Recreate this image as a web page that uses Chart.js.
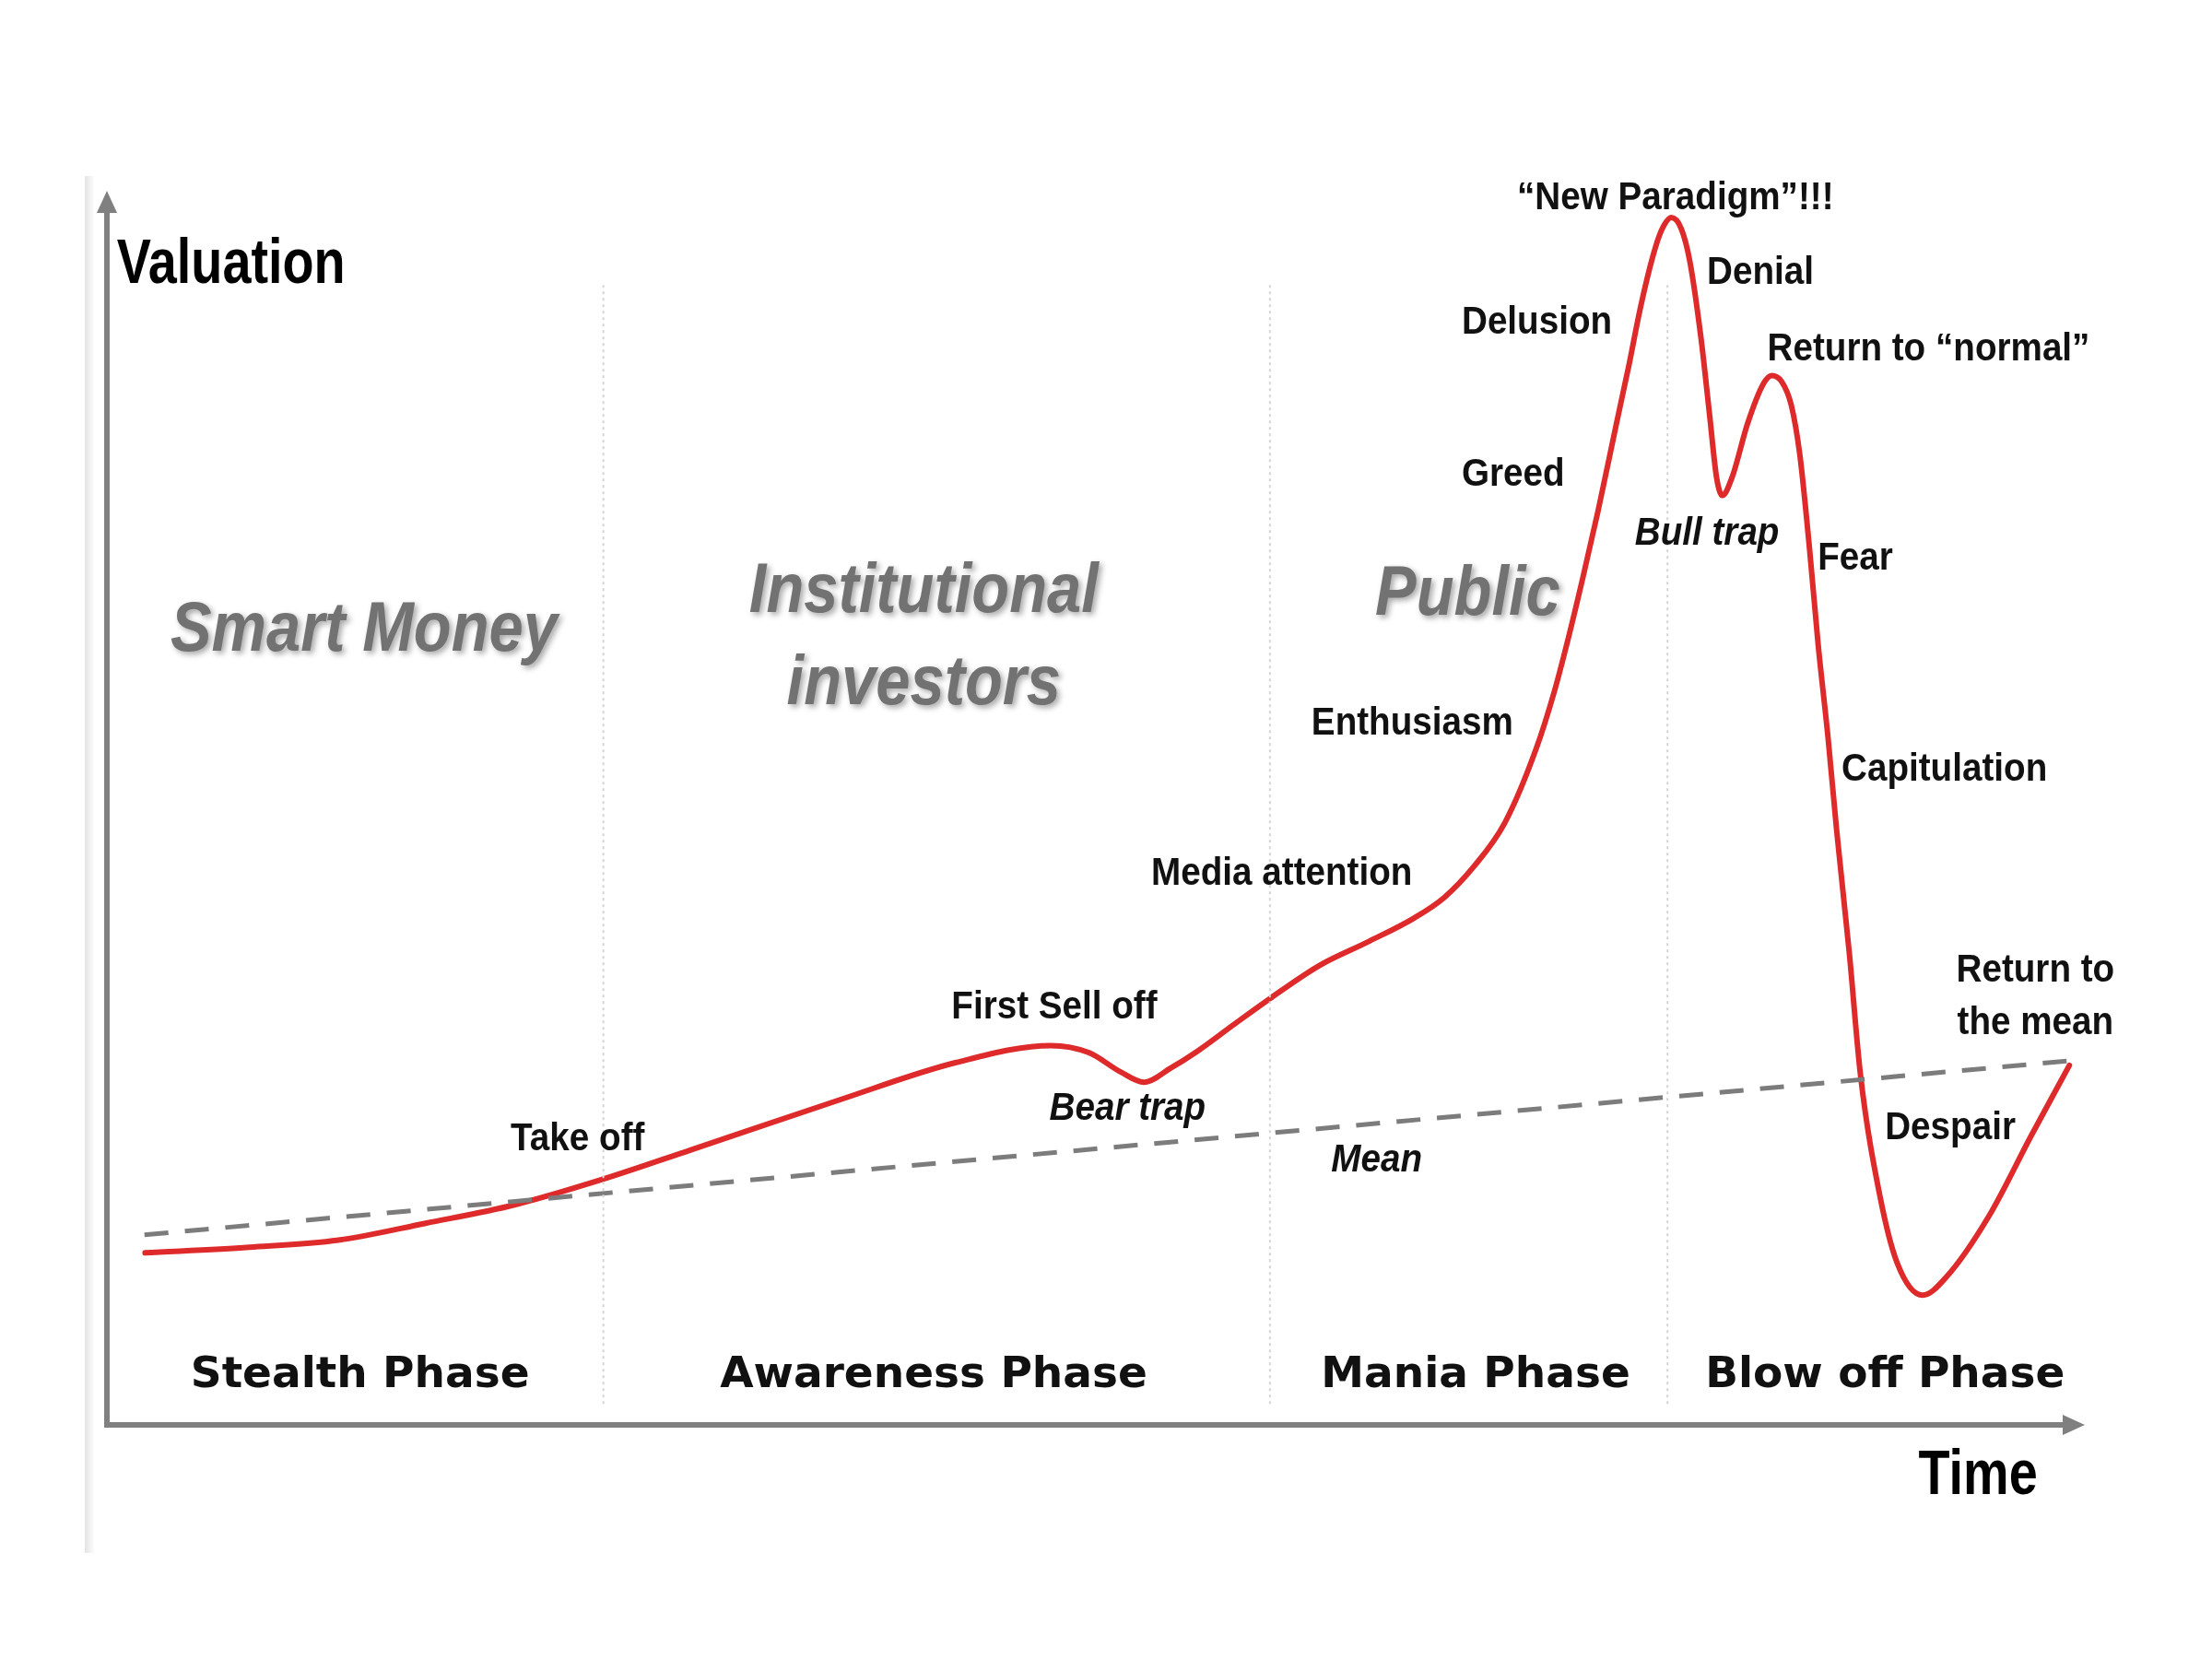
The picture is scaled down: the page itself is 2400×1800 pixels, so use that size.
<!DOCTYPE html>
<html>
<head>
<meta charset="utf-8">
<script src="https://cdn.jsdelivr.net/npm/chart.js@4.4.1/dist/chart.umd.min.js"></script>
<style>
  html, body { margin: 0; padding: 0; background: #fff; }
  #wrap { width: 2400px; height: 1800px; }
</style>
</head>
<body>
<div id="wrap"><canvas id="cycle" width="2400" height="1800"></canvas></div>
<script>
// time runs 0..100 along the x axis, valuation 0..100 up the y axis
const timeValues = [
  1.93, 7.20, 11.70, 16.12, 20.61, 25.04, 29.53, 36.95, 42.94, 47.72,
  49.64, 51.28, 52.43, 53.78, 55.14, 56.99, 58.77, 61.34, 63.69, 66.05,
  67.62, 69.12, 70.68, 72.25, 73.18, 73.89, 74.61, 75.39, 76.32, 76.96,
  77.53, 78.17, 78.60, 79.10, 79.60, 80.03, 80.60, 81.03, 81.38, 81.67,
  82.17, 82.95, 83.74, 84.17, 84.66, 85.16, 85.59, 86.09, 86.52, 87.02,
  87.45, 88.09, 88.66, 89.66, 90.51, 91.80, 93.01, 95.15, 97.29, 99.22
];
const valuationValues = [
  13.94, 14.40, 14.97, 16.34, 17.83, 19.89, 22.29, 26.29, 29.37, 30.74,
  30.17, 28.57, 27.77, 28.91, 30.29, 32.46, 34.51, 37.26, 39.09, 41.03,
  42.74, 45.26, 48.80, 54.74, 59.43, 63.77, 68.57, 74.06, 81.14, 85.94,
  90.51, 94.74, 96.80, 97.83, 96.91, 94.29, 88.00, 81.83, 76.80, 75.31,
  76.80, 81.14, 84.34, 85.03, 84.57, 82.63, 78.63, 70.86, 63.20, 55.66,
  48.23, 38.29, 28.34, 18.40, 13.14, 10.51, 12.00, 16.91, 23.43, 29.14
];
const meanTime = [1.9, 99.2];
const meanValues = [15.4, 29.5];
const phaseBounds = [25.1, 58.8, 78.9];
const phaseNames = ['Stealth Phase', 'Awareness Phase', 'Mania Phase', 'Blow off Phase'];
const phaseCenters = [12.8, 41.8, 69.2, 89.9];
const actorNames = ['Smart Money', 'Institutional', 'investors', 'Public'];

// text annotations: [text, time, valuation, italic]
const stageLabels = [
  ['Take off', 23.8, 23.1, false],
  ['First Sell off', 47.9, 33.8, false],
  ['Bear trap', 51.6, 25.6, true],
  ['Media attention', 59.4, 44.6, false],
  ['Mean', 64.2, 21.4, true],
  ['Enthusiasm', 66.0, 56.8, false],
  ['Greed', 71.1, 77.0, false],
  ['Delusion', 72.3, 89.3, false],
  ['\u201cNew Paradigm\u201d!!!', 79.3, 99.4, false],
  ['Denial', 83.6, 93.3, false],
  ['Return to \u201cnormal\u201d', 92.1, 87.1, false],
  ['Bull trap', 80.9, 72.2, true],
  ['Fear', 88.4, 70.2, false],
  ['Capitulation', 92.9, 53.1, false],
  ['Return to', 97.5, 36.8, false],
  ['the mean', 97.5, 32.5, false],
  ['Despair', 93.2, 24.0, false]
];
const actorSpots = [[13.0, 64.3], [41.3, 67.4], [41.3, 60.0], [68.8, 67.2]];

function zip(xs, ys) {
  return xs.map((x, i) => ({ x: x, y: ys[i] }));
}

function drawText(ctx, text, x, y, font, color, align, scaleX) {
  ctx.save();
  ctx.translate(x, y);
  ctx.scale(scaleX, 1);
  ctx.font = font;
  ctx.textAlign = align;
  ctx.textBaseline = 'middle';
  ctx.fillStyle = color;
  ctx.fillText(text, 0, 0);
  ctx.restore();
}

const dividerSets = phaseBounds.map(b => ({
  data: [{ x: b, y: 1.7 }, { x: b, y: 92.6 }],
  borderColor: '#d4d4d4',
  borderWidth: 2,
  borderDash: [3, 4],
  pointRadius: 0,
  tension: 0
}));

const decorPlugin = {
  id: 'decor',
  beforeDraw(chart) {
    const ctx = chart.ctx;
    const a = chart.chartArea;
    ctx.save();
    ctx.fillStyle = '#fff';
    ctx.fillRect(0, 0, chart.width, chart.height);
    // faint edge of the original picture
    const g = ctx.createLinearGradient(a.left - 24, 0, a.left - 14, 0);
    g.addColorStop(0, '#e4e4e4');
    g.addColorStop(1, '#fbfbfb');
    ctx.fillStyle = g;
    ctx.fillRect(a.left - 24, a.top - 16, 10, 1494);
    ctx.restore();
  },
  afterDatasetsDraw(chart) {
    const ctx = chart.ctx;
    const a = chart.chartArea;
    const xs = chart.scales.x, ys = chart.scales.y;

    // axes with arrowheads
    ctx.save();
    ctx.strokeStyle = '#808080';
    ctx.fillStyle = '#808080';
    ctx.lineWidth = 6;
    ctx.beginPath();
    ctx.moveTo(a.left, a.top + 18);
    ctx.lineTo(a.left, a.bottom);
    ctx.lineTo(a.right - 18, a.bottom);
    ctx.stroke();
    ctx.beginPath();
    ctx.moveTo(a.left, a.top);
    ctx.lineTo(a.left - 11, a.top + 24);
    ctx.lineTo(a.left + 11, a.top + 24);
    ctx.closePath();
    ctx.fill();
    ctx.beginPath();
    ctx.moveTo(a.right, a.bottom);
    ctx.lineTo(a.right - 24, a.bottom - 11);
    ctx.lineTo(a.right - 24, a.bottom + 11);
    ctx.closePath();
    ctx.fill();
    ctx.restore();

    // actor labels, grey italic with soft shadow
    ctx.save();
    ctx.shadowColor = 'rgba(0,0,0,0.35)';
    ctx.shadowBlur = 6;
    ctx.shadowOffsetX = 3;
    ctx.shadowOffsetY = 3;
    actorNames.forEach((name, i) => {
      drawText(ctx, name, xs.getPixelForValue(actorSpots[i][0]), ys.getPixelForValue(actorSpots[i][1]),
        'italic bold 76px "Liberation Sans"', '#727272', 'center', 0.88);
    });
    ctx.restore();

    stageLabels.forEach(([text, t, v, italic]) => {
      drawText(ctx, text, xs.getPixelForValue(t), ys.getPixelForValue(v),
        (italic ? 'italic ' : '') + 'bold 42px "Liberation Sans"', '#111', 'center', 0.92);
    });

    phaseNames.forEach((name, i) => {
      drawText(ctx, name, xs.getPixelForValue(phaseCenters[i]), ys.getPixelForValue(4.0),
        'bold 47px "DejaVu Sans"', '#111', 'center', 1);
    });

    drawText(ctx, 'Valuation', xs.getPixelForValue(0.5), ys.getPixelForValue(93.9),
      'bold 68px "Liberation Sans"', '#000', 'left', 0.82);
    drawText(ctx, 'Time', xs.getPixelForValue(94.6), ys.getPixelForValue(-4.2),
      'bold 68px "Liberation Sans"', '#000', 'center', 0.82);
  }
};

new Chart(document.getElementById('cycle'), {
  type: 'line',
  data: {
    datasets: [
      ...dividerSets,
      {
        label: 'Mean',
        data: zip(meanTime, meanValues),
        borderColor: '#7c7c7c',
        borderWidth: 5,
        borderDash: [26, 18],
        pointRadius: 0,
        tension: 0
      },
      {
        label: 'Valuation',
        data: zip(timeValues, valuationValues),
        borderColor: '#de2a2a',
        borderWidth: 6,
        pointRadius: 0,
        cubicInterpolationMode: 'monotone',
        borderCapStyle: 'round',
        borderJoinStyle: 'round'
      }
    ]
  },
  options: {
    responsive: false,
    devicePixelRatio: 1,
    animation: false,
    layout: { padding: { left: 116, right: 138, top: 207, bottom: 254 } },
    plugins: { legend: { display: false }, tooltip: { enabled: false } },
    scales: {
      x: { type: 'linear', min: 0, max: 100, display: false },
      y: { min: 0, max: 100, display: false }
    }
  },
  plugins: [decorPlugin]
});
</script>
</body>
</html>
